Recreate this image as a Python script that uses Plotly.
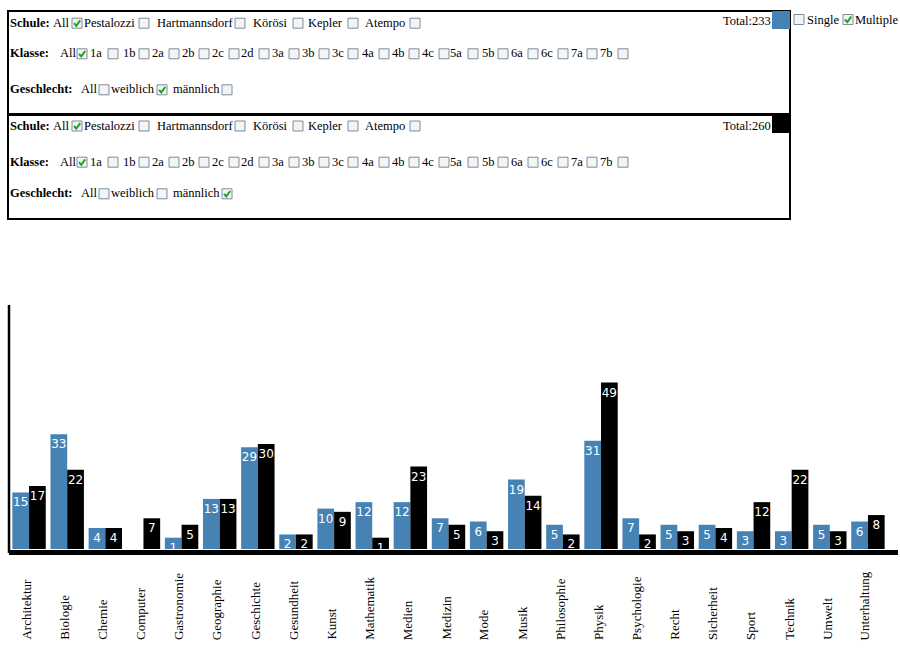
import plotly.graph_objects as go

# ---------------- data ----------------
categories = ["Architektur", "Biologie", "Chemie", "Computer", "Gastronomie", "Geographie",
              "Geschichte", "Gesundheit", "Kunst", "Mathematik", "Medien", "Medizin", "Mode",
              "Musik", "Philosophie", "Physik", "Psychologie", "Recht", "Sicherheit", "Sport",
              "Technik", "Umwelt", "Unterhaltung"]
weiblich = [15, 33, 4, 0, 1, 13, 29, 2, 10, 12, 12, 7, 6, 19, 5, 31, 7, 5, 5, 3, 3, 5, 6]
maennlich = [17, 22, 4, 7, 5, 13, 30, 2, 9, 1, 23, 5, 3, 14, 2, 49, 2, 3, 4, 12, 22, 3, 8]

schulen = ["All", "Pestalozzi", "Hartmannsdorf", "Körösi", "Kepler", "Atempo"]
klassen = ["All", "1a", "1b", "2a", "2b", "2c", "2d", "3a", "3b", "3c", "4a", "4b", "4c",
           "5a", "5b", "6a", "6c", "7a", "7b"]
geschlechter = ["All", "weiblich", "männlich"]
modes = ["Single", "Multiple"]

panel1_checked = {"schule": "All", "klasse": "All", "geschlecht": "weiblich"}
panel2_checked = {"schule": "All", "klasse": "All", "geschlecht": "männlich"}

# ---------------- layout geometry (pixels) ----------------
W, H = 900, 654
PL, PR = 10, 887        # plot area x (px)
PT, PB = 305, 549       # plot area y (px)
OFFSET = 2.5            # bars start slightly below zero line
BLUE = "#4682B4"

schule_text_x = [53, 84, 157, 253, 308, 365]
schule_cb_x = [72, 139, 235, 293, 348, 410]
klasse_text_x = [60, 90, 123, 152, 182, 212, 242, 272, 302, 332, 362, 392, 422,
                 450, 482, 511, 541, 571, 600]
klasse_cb_x = [77, 108, 139, 169, 199, 229, 259, 289, 319, 348, 379, 409, 439,
               468, 498, 528, 558, 587, 618]
geschl_text_x = [81, 111, 173]
geschl_cb_x = [99, 157, 222]


def px(x):
    return (x - PL) / (PR - PL)


def py(y):
    return (PB - y) / (PB - PT)


fig = go.Figure()

for vals, name, col in ((weiblich, "weiblich", BLUE), (maennlich, "männlich", "black")):
    fig.add_trace(go.Bar(
        x=categories, y=[v + OFFSET if v > 0 else 0 for v in vals], base=-OFFSET,
        text=[str(v) if v > 0 else "" for v in vals], name=name,
        marker=dict(color=col, line=dict(width=0)),
        textposition="inside", insidetextanchor="end", constraintext="none",
        textangle=0,
        textfont=dict(family="DejaVu Sans", size=12, color="white"),
        hoverinfo="skip"))

shapes = []
annotations = []

# axes lines
shapes.append(dict(type="line", xref="paper", yref="paper", x0=px(9), x1=px(9),
                   y0=py(305), y1=py(553), line=dict(color="black", width=2.5)))
shapes.append(dict(type="line", xref="paper", yref="paper", x0=px(9), x1=px(898),
                   y0=py(552.5), y1=py(552.5), line=dict(color="black", width=5)))

# category labels
for c in categories:
    annotations.append(dict(x=c, xref="x", y=py(642), yref="paper", text=c,
                            textangle=-90, showarrow=False, xanchor="center",
                            yanchor="bottom", xshift=-3,
                            font=dict(family="Liberation Serif", size=13, color="black")))


def text(x, y, s, anchor="left", bold=False):
    annotations.append(dict(x=px(x), y=py(y), xref="paper", yref="paper",
                            text=f"<b>{s}</b>" if bold else s, showarrow=False,
                            xanchor=anchor, yanchor="middle", borderpad=0,
                            xshift=-1.5 if anchor == "left" else 0,
                            font=dict(family="Liberation Serif", size=12.5, color="black")))


def checkbox(x, y, checked):
    shapes.append(dict(type="rect", xref="paper", yref="paper",
                       x0=px(x), x1=px(x + 10), y0=py(y - 5), y1=py(y + 5),
                       line=dict(color="#7f8c99", width=1), fillcolor="#f2f4f6"))
    if checked:
        path = (f"M {px(x + 2)} {py(y)} L {px(x + 4.3)} {py(y + 2.6)} "
                f"L {px(x + 8.2)} {py(y - 2.8)}")
        shapes.append(dict(type="path", xref="paper", yref="paper", path=path,
                           line=dict(color="#22a022", width=2)))


def panel(top, bottom, rows_y, checked, total, color, total_y):
    shapes.append(dict(type="rect", xref="paper", yref="paper",
                       x0=px(8), x1=px(790), y0=py(top), y1=py(bottom),
                       line=dict(color="black", width=2), fillcolor="rgba(0,0,0,0)"))
    y1, y2, y3 = rows_y
    text(10, y1, "Schule:", bold=True)
    for s, tx, cx in zip(schulen, schule_text_x, schule_cb_x):
        text(tx, y1, s)
        checkbox(cx, y1 + 0.5, s == checked["schule"])
    text(10, y2, "Klasse:", bold=True)
    for s, tx, cx in zip(klassen, klasse_text_x, klasse_cb_x):
        text(tx, y2, s)
        checkbox(cx, y2 + 0.5, s == checked["klasse"])
    text(10, y3, "Geschlecht:", bold=True)
    for s, tx, cx in zip(geschlechter, geschl_text_x, geschl_cb_x):
        text(tx, y3, s)
        checkbox(cx, y3 + 0.5, s == checked["geschlecht"])
    text(771.5, total_y, f"Total:{total}", anchor="right")
    shapes.append(dict(type="rect", xref="paper", yref="paper",
                       x0=px(772), x1=px(790), y0=py(top), y1=py(top + 18),
                       line=dict(width=0), fillcolor=color))


panel(11, 114, (22.7, 53.3, 89.3), panel1_checked, sum(weiblich), BLUE, 20.5)
panel(115, 219, (125.5, 161.7, 193.3), panel2_checked, sum(maennlich), "black", 126)

# Single / Multiple
checkbox(794, 19.5, False)
text(807, 19.5, modes[0])
checkbox(843, 19.5, True)
text(855, 19.5, modes[1])

fig.update_layout(
    width=W, height=H,
    margin=dict(l=PL, r=W - PR, t=PT, b=H - PB, pad=0),
    paper_bgcolor="white", plot_bgcolor="white",
    barmode="group", bargap=0.124, bargroupgap=0,
    showlegend=False,
    xaxis=dict(type="category", range=[-0.5, len(categories) - 0.5], showticklabels=False,
               showgrid=False, zeroline=False, showline=False, ticks="", fixedrange=True),
    yaxis=dict(range=[-OFFSET, 73.0], showticklabels=False, showgrid=False,
               zeroline=False, showline=False, ticks="", fixedrange=True),
    shapes=shapes, annotations=annotations,
)

fig.write_html("out.html", config={"displayModeBar": False})
